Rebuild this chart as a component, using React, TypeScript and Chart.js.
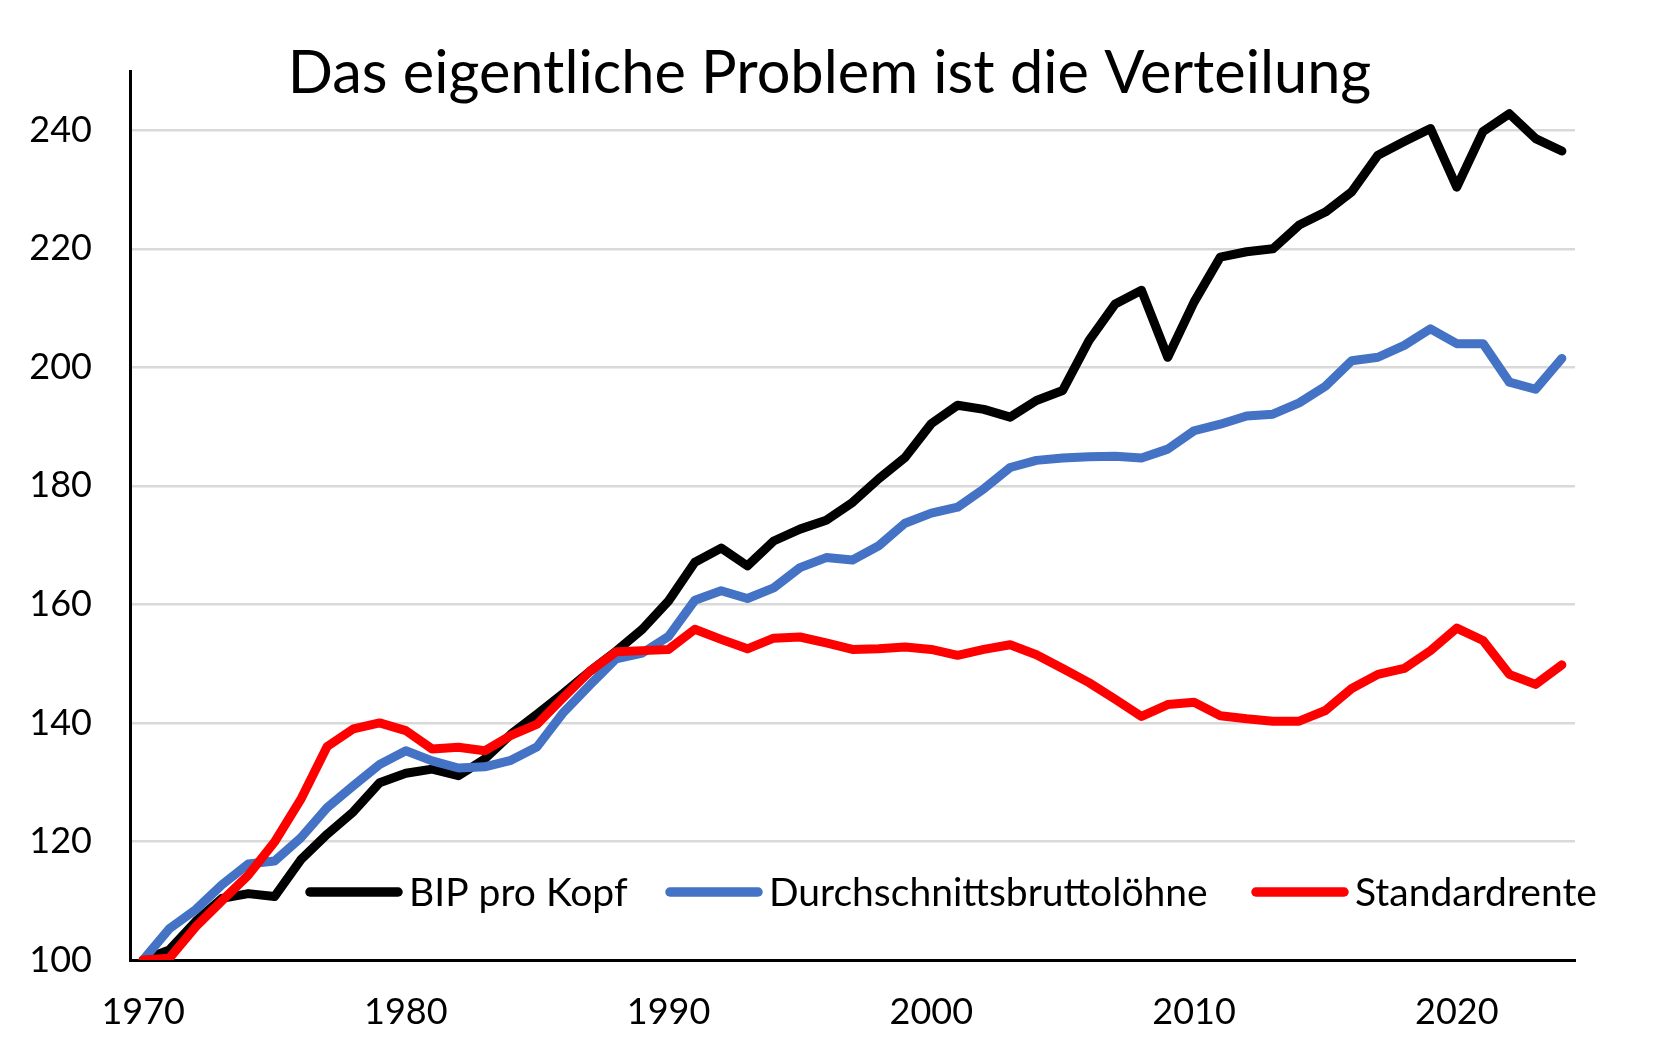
import React, { useEffect, useRef } from "react";
import { Chart, registerables } from "chart.js";

Chart.register(...registerables);

const TITLE = "Das eigentliche Problem ist die Verteilung";

const years = [
  "1970", "1971", "1972", "1973", "1974", "1975", "1976", "1977", "1978", "1979",
  "1980", "1981", "1982", "1983", "1984", "1985", "1986", "1987", "1988", "1989",
  "1990", "1991", "1992", "1993", "1994", "1995", "1996", "1997", "1998", "1999",
  "2000", "2001", "2002", "2003", "2004", "2005", "2006", "2007", "2008", "2009",
  "2010", "2011", "2012", "2013", "2014", "2015", "2016", "2017", "2018", "2019",
  "2020", "2021", "2022", "2023", "2024",
];

const xTickLabels = ["1970", "1980", "1990", "2000", "2010", "2020"];
const yTickValues = [100, 120, 140, 160, 180, 200, 220, 240];

const bipProKopf = [
  100, 101.7, 106.5, 110.4, 111.2, 110.7, 116.9, 121.2, 125.0, 129.9,
  131.5, 132.2, 131.1, 133.9, 138.1, 141.5, 145.0, 148.7, 152.1, 155.8,
  160.6, 167.1, 169.5, 166.5, 170.7, 172.7, 174.2, 177.2, 181.2, 184.8,
  190.5, 193.6, 192.9, 191.6, 194.4, 196.1, 204.5, 210.7, 213.0, 201.7,
  211.0, 218.6, 219.5, 220.0, 224.0, 226.2, 229.6, 235.8, 238.1, 240.3,
  230.4, 239.8, 242.8, 238.6, 236.5,
];

const bruttoloehne = [
  100, 105.3, 108.5, 112.7, 116.2, 116.7, 120.6, 125.7, 129.4, 133.0,
  135.3, 133.6, 132.4, 132.6, 133.7, 136.0, 141.8, 146.4, 150.8, 151.8,
  154.6, 160.7, 162.3, 161.0, 162.8, 166.2, 167.9, 167.5, 169.9, 173.7,
  175.4, 176.4, 179.5, 183.1, 184.3, 184.7, 184.9, 185.0, 184.7, 186.2,
  189.3, 190.4, 191.8, 192.1, 194.0, 196.8, 201.1, 201.7, 203.7, 206.5,
  204.0, 204.0, 197.5, 196.3, 201.5,
];

const standardrente = [
  100, 100.3, 105.6, 110.0, 114.3, 119.9, 127.1, 136.0, 139.0, 140.0,
  138.7, 135.6, 135.9, 135.3, 137.9, 139.8, 144.3, 148.7, 152.0, 152.2,
  152.4, 155.8, 154.1, 152.5, 154.3, 154.5, 153.5, 152.4, 152.5, 152.8,
  152.4, 151.4, 152.4, 153.2, 151.5, 149.2, 146.8, 144.0, 141.1, 143.1,
  143.5, 141.2, 140.7, 140.3, 140.3, 142.1, 145.8, 148.2, 149.2, 152.2,
  156.0, 153.9, 148.2, 146.5, 149.8,
];

const seriesLabels = ["BIP pro Kopf", "Durchschnittsbruttolöhne", "Standardrente"];
const seriesColors = ["#000000", "#4472C4", "#FF0000"];

const FONT = "Lato, 'Open Sans', sans-serif";
const W = 1659;
const H = 1045;

// overlay: title + legend drawn inside the plot area, like the original
const overlayPlugin = {
  id: "overlayTexts",
  afterDraw(chart: any) {
    const ctx = chart.ctx;
    ctx.save();
    ctx.fillStyle = "#000";
    ctx.font = `59.5px ${FONT}`;
    ctx.textAlign = "center";
    ctx.textBaseline = "alphabetic";
    ctx.fillText(TITLE, W / 2, 93);

    const legendY = 892;
    const legendStarts = [310, 670, 1256];
    ctx.font = `39px ${FONT}`;
    ctx.textAlign = "left";
    ctx.textBaseline = "middle";
    chart.data.datasets.forEach((ds: any, i: number) => {
      const x0 = legendStarts[i];
      ctx.strokeStyle = ds.borderColor;
      ctx.lineWidth = 9.5;
      ctx.lineCap = "round";
      ctx.beginPath();
      ctx.moveTo(x0, legendY);
      ctx.lineTo(x0 + 88, legendY);
      ctx.stroke();
      ctx.fillStyle = "#000";
      ctx.fillText(ds.label, x0 + 99, legendY + 1);
    });
    ctx.restore();
  },
};

export default function App() {
  const canvasRef = useRef<HTMLCanvasElement | null>(null);

  useEffect(() => {
    const canvas = canvasRef.current;
    if (!canvas) return;
    const values = [bipProKopf, bruttoloehne, standardrente];
    const chart = new Chart(canvas, {
      type: "line",
      data: {
        labels: years,
        datasets: values.map((v, i) => ({
          label: seriesLabels[i],
          data: v,
          borderColor: seriesColors[i],
          backgroundColor: seriesColors[i],
          borderWidth: 9,
          pointRadius: 0,
          pointHoverRadius: 0,
          tension: 0,
          fill: false,
          borderJoinStyle: "round" as const,
          borderCapStyle: "round" as const,
          order: 3 - i,
        })),
      },
      options: {
        responsive: false,
        animation: false,
        devicePixelRatio: 1,
        layout: { padding: { left: 0, right: 84, top: 71, bottom: 0 } },
        plugins: {
          legend: { display: false },
          title: { display: false },
          tooltip: { enabled: false },
        },
        scales: {
          x: {
            type: "category",
            offset: true,
            grid: { display: false, drawTicks: false },
            border: { display: true, color: "#000", width: 3 },
            ticks: {
              autoSkip: false,
              maxRotation: 0,
              minRotation: 0,
              padding: 31,
              color: "#000",
              font: { family: FONT, size: 36 },
              callback: (_v: any, idx: number) =>
                xTickLabels.includes(years[idx]) ? years[idx] : "",
            },
            afterFit: (scale: any) => {
              scale.height = 85;
            },
          },
          y: {
            min: 100,
            max: 250,
            grid: {
              drawTicks: false,
              lineWidth: 2.5,
              color: (ctx: any) =>
                ctx.tick && yTickValues.includes(ctx.tick.value) && ctx.tick.value !== 100
                  ? "#D9D9D9"
                  : "rgba(0,0,0,0)",
            },
            border: { display: true, color: "#000", width: 3 },
            ticks: {
              stepSize: 20,
              padding: 38,
              color: "#000",
              font: { family: FONT, size: 36 },
              callback: (v: any) => (yTickValues.includes(Number(v)) ? String(v) : ""),
            },
            afterFit: (scale: any) => {
              scale.width = 130;
            },
          },
        },
      },
      plugins: [overlayPlugin],
    });
    return () => chart.destroy();
  }, []);

  return (
    <div style={{ position: "fixed", left: 0, top: 0, width: W, height: H, background: "#fff" }}>
      <canvas ref={canvasRef} width={W} height={H} style={{ width: W, height: H }} />
    </div>
  );
}
